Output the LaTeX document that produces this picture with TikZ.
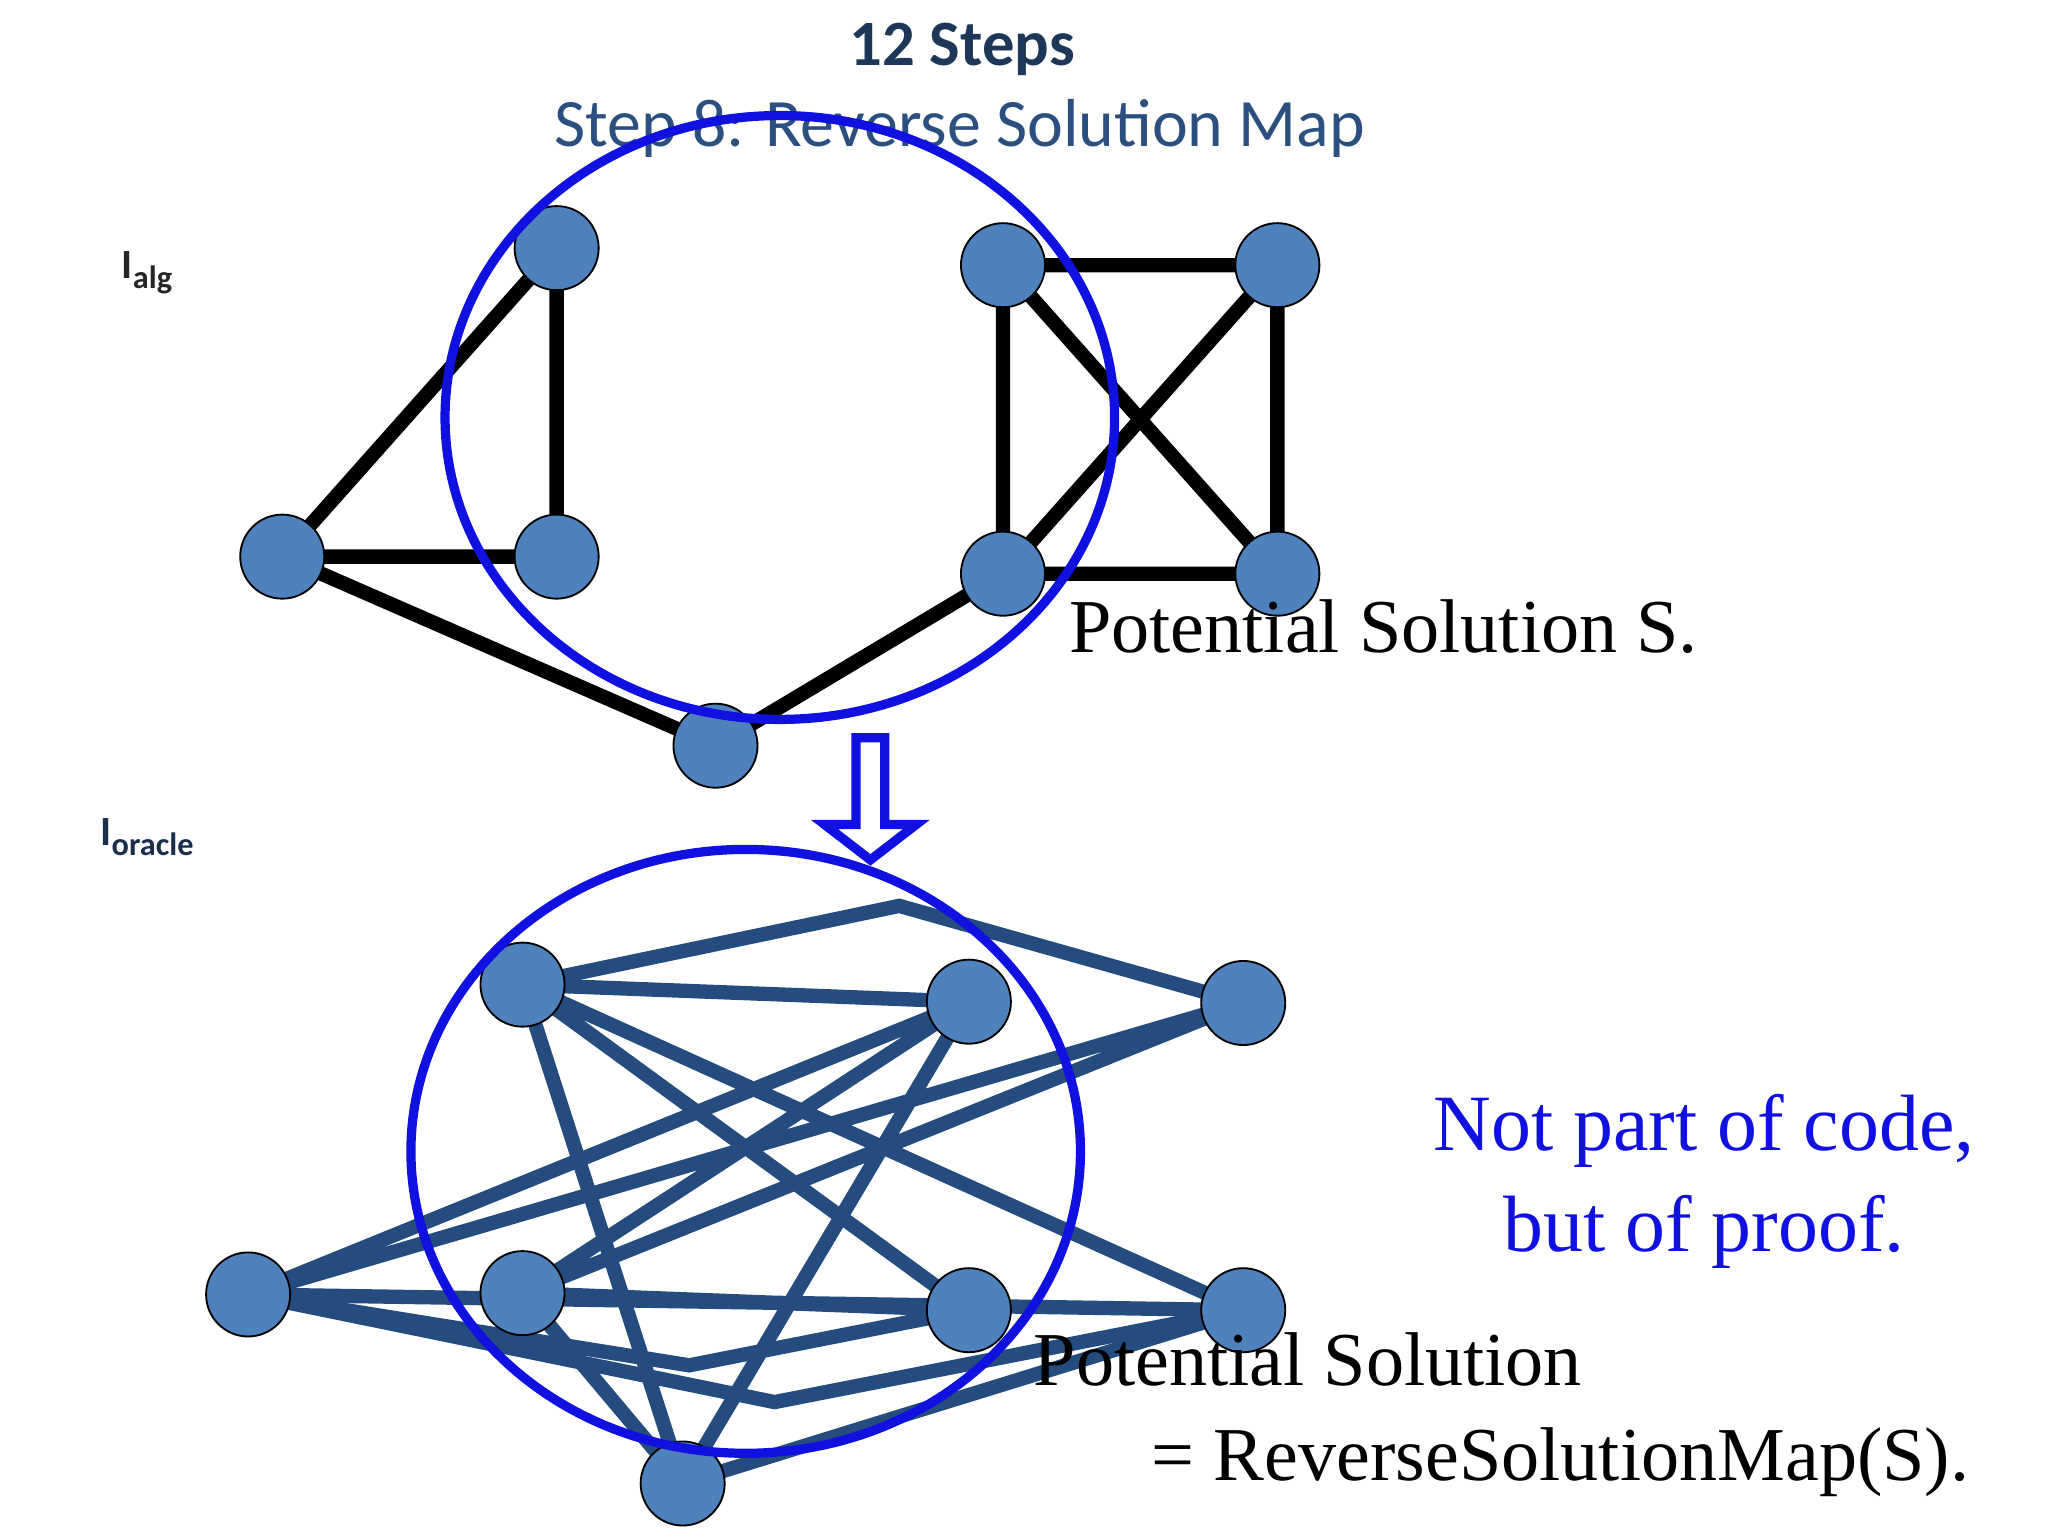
\documentclass[tikz,border=0pt]{standalone}
\usepackage{fontspec}
\setmainfont{Liberation Serif}
\newfontfamily\calfont{Carlito}
\begin{document}
\begin{tikzpicture}[x=0.01cm,y=-0.01cm,
  vtx/.style={circle,draw=black,thin,fill=vblue,minimum size=0.64cm,inner sep=0},
  te/.style={line width=3.1pt,black},
  be/.style={line width=3.1pt,edgeblue},
  ring/.style={draw=ringblue,line width=2pt}]
\definecolor{vblue}{HTML}{4F81BD}
\definecolor{edgeblue}{HTML}{254C7F}
\definecolor{ringblue}{HTML}{1010E0}
\definecolor{titleblue}{HTML}{2B4F7F}
\useasboundingbox (0,0) rectangle (1560,1170);
% title
\node[font=\calfont\bfseries\fontsize{14}{16}\selectfont,text=titleblue!70!black] (t1) at (733,38) {12 Steps};
\node[font=\calfont\fontsize{14.7}{17}\selectfont,text=titleblue] (t2) at (731,98) {Step 8: Reverse Solution Map};
\node[font=\calfont\bfseries\fontsize{9}{10}\selectfont,text=black!85] (ia) at (112,208) {I\raisebox{-0.5ex}{\fontsize{7}{8}\selectfont alg}};
\node[font=\calfont\bfseries\fontsize{9}{10}\selectfont,text=titleblue!60!black] (io) at (112,638) {I\raisebox{-0.5ex}{\fontsize{7}{8}\selectfont oracle}};
% top graph
\coordinate (A) at (424,189); \coordinate (B) at (215,424); \coordinate (C) at (424,424);
\coordinate (D) at (545,568); \coordinate (E) at (764,202); \coordinate (F) at (973,202);
\coordinate (G) at (764,437); \coordinate (H) at (973,437);
\draw[te] (A)--(B) (A)--(C) (B)--(C) (B)--(D) (D)--(G) (E)--(F) (E)--(G) (E)--(H) (F)--(G) (F)--(H) (G)--(H);
\foreach \n in {A,B,C,D,E,F,G,H} \node[vtx] (n\n) at (\n) {};
\draw[ring] (594,318) ellipse [x radius=255,y radius=230];
\node[anchor=base west,font=\fontsize{16.5}{20}\selectfont] (ps) at (802,497) {Potential Solution S.};
% arrow
\draw[ringblue,line width=2pt] (652,562)--(674,562)--(674,628)--(698,628)--(663,655)--(628,628)--(652,628)--cycle;
% bottom graph
\coordinate (P1) at (398,750); \coordinate (P2) at (738,763); \coordinate (P3) at (947,764);
\coordinate (P4) at (189,986); \coordinate (P5) at (398,985); \coordinate (P6) at (738,998);
\coordinate (P7) at (947,998); \coordinate (P8) at (520,1130);
\draw[be] (P1)--(685,690)--(P3);
\draw[be] (P1)--(P2) (P1)--(P8) (P1)--(P6) (P1)--(P7) (P2)--(P4) (P2)--(P5) (P2)--(P8)
  (P3)--(P4) (P3)--(P5) (P5)--(P6) (P5)--(P8) (P8)--(P7) (P4)--(P7);
\draw[be] (P4)--(525,1040)--(P6);
\draw[be] (P4)--(590,1068)--(P7);
\foreach \n in {P1,P2,P3,P4,P5,P6,P7,P8} \node[vtx] (n\n) at (\n) {};
\draw[ring] (568,877) ellipse [x radius=255,y radius=230];
\node[anchor=base west,font=\fontsize{16.5}{20}\selectfont] (ps2) at (775,1055) {Potential Solution};
\node[anchor=base west,font=\fontsize{16.5}{20}\selectfont] (ps3) at (865,1128) {= ReverseSolutionMap(S).};
\node[align=center,text=ringblue,font=\fontsize{17.3}{22}\selectfont] (np) at (1298,900) {Not part of code,\\ but of proof.};
\end{tikzpicture}
\end{document}
